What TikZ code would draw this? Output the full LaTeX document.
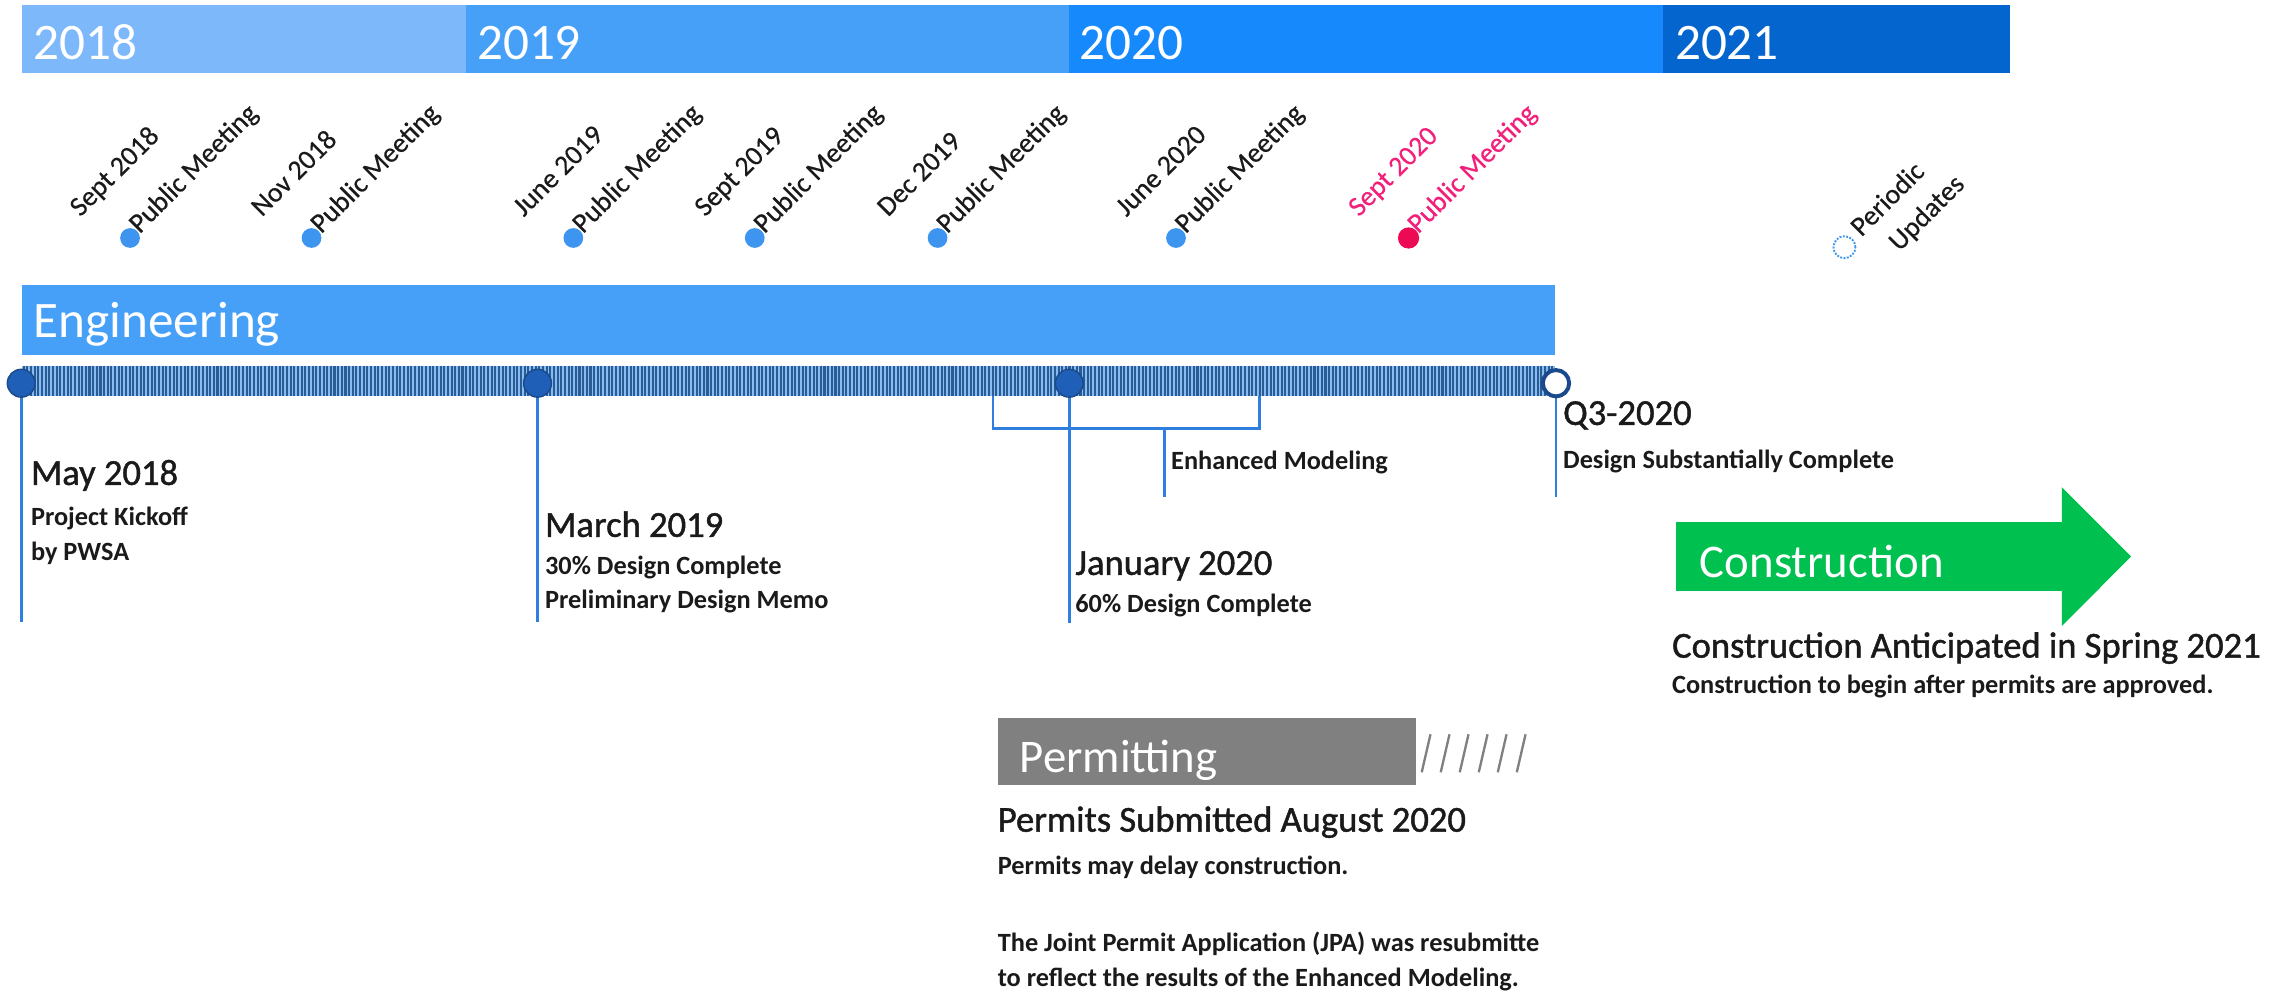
\documentclass[tikz,border=0pt]{standalone}
\usepackage{fontspec}
\setmainfont{Carlito}
\newfontface\headfont[FakeBold=1.2]{Carlito}
\newfontface\meetfont[FakeBold=0.5]{Carlito}
\definecolor{y18}{HTML}{7DB8FB}
\definecolor{y19}{HTML}{47A0F8}
\definecolor{y20}{HTML}{1689FC}
\definecolor{y21}{HTML}{0565CE}
\definecolor{engblue}{HTML}{47A0F8}
\definecolor{stripebg}{HTML}{86BDF0}
\definecolor{stripefg}{HTML}{2C5A94}
\definecolor{msfill}{HTML}{1F5FB8}
\definecolor{msline}{HTML}{1B4A8C}
\definecolor{lineblue}{HTML}{2F7FE0}
\definecolor{meetblue}{HTML}{3D95F0}
\definecolor{meetpink}{HTML}{EC0A55}
\definecolor{txtpink}{HTML}{F2207A}
\definecolor{txt}{HTML}{1A1A1A}
\definecolor{cgreen}{HTML}{00C050}
\definecolor{pgray}{HTML}{808080}
\tikzset{
  yearlbl/.style={font=\fontsize{35}{40}\selectfont, text=white, anchor=base west, inner sep=0pt},
  biglbl/.style={font=\fontsize{32}{36}\selectfont, text=white, anchor=base west, inner sep=0pt},
  head/.style={font=\headfont\fontsize{25}{30}\selectfont, text=txt, anchor=base west, inner sep=0pt},
  subtxt/.style={font=\bfseries\fontsize{18}{22}\selectfont, text=txt, anchor=base west, inner sep=0pt},
  meet/.style={font=\meetfont\fontsize{19}{22}\selectfont, text=txt, anchor=base west, inner sep=0pt, rotate=45},
  mdot/.style={circle, fill=meetblue, minimum size=13.5pt, inner sep=0pt},
  msdot/.style={circle, fill=msfill, draw=msline, line width=1pt, minimum size=19pt, inner sep=0pt},
  vline/.style={draw=lineblue, line width=1.8pt},
}
\begin{document}
\begin{tikzpicture}[x=1pt,y=-1pt]
\useasboundingbox (0,0) rectangle (1567,681);
% year bar
\fill[y18] (15,3.5) rectangle (318.5,50);
\fill[y19] (318.5,3.5) rectangle (731,50);
\fill[y20] (731,3.5) rectangle (1137,50);
\fill[y21] (1137,3.5) rectangle (1374,50);
\node[yearlbl] (y2018) at (22.5,41) {2018};
\node[yearlbl] (y2019) at (326,41) {2019};
\node[yearlbl] (y2020) at (738,41) {2020};
\node[yearlbl] (y2021) at (1145,41) {2021};
% public meetings
\foreach \x/\d/\n in {88.9/Sept 2018/a,213/Nov 2018/b,392/June 2019/c,516/Sept 2019/d,641/Dec 2019/e,804/June 2020/f}{
  \node[mdot] (md\n) at (\x,162.7) {};
  \node[meet] (pm\n) at ({\x+6.5},160.3) {Public Meeting};
  \node[meet] (dt\n) at ({\x-34},148.8) {\d};
}
\node[mdot, fill=meetpink, minimum size=14.5pt] (mdg) at (963,162.7) {};
\node[meet, text=txtpink] (pmg) at ({963+6.5},160.3) {Public Meeting};
\node[meet, text=txtpink] (dtg) at ({963-34},148.8) {Sept 2020};
\node[circle, draw=meetblue, densely dotted, line width=1.3pt, minimum size=15pt, inner sep=0pt] (pu) at (1261,169) {};
\node[meet] (per) at (1272.5,162.5) {Periodic};
\node[meet] (upd) at (1298.5,172.5) {Updates};
% engineering bar
\fill[engblue] (15,195) rectangle (1063,242.6);
\node[yearlbl] (eng) at (23,231) {Engineering};
% striped timeline
\fill[stripebg] (15,250) rectangle (1063,271);
\foreach \i in {0,...,418}{
  \draw[stripefg, line width=1.4pt] ({16.2+\i*2.5},250) -- ({16.2+\i*2.5},271);
}
% milestone coordinates
\coordinate (p1) at (14.5,262);
\coordinate (p1e) at (14.5,425);
\coordinate (p2) at (367.5,262);
\coordinate (p2e) at (367.5,425);
\coordinate (p3) at (731,262);
\coordinate (p3e) at (731,426);
\coordinate (p4) at (1063.8,262);
\coordinate (p4e) at (1063.8,340);
\coordinate (bl) at (679,271);
\coordinate (blb) at (679,293);
\coordinate (br) at (861,271);
\coordinate (brb) at (861,293);
\coordinate (bs) at (796,293);
\coordinate (bse) at (796,340);
\draw[vline] (p1) -- (p1e);
\draw[vline] (p2) -- (p2e);
\draw[vline] (p3) -- (p3e);
\draw[vline] (p4) -- (p4e);
\draw[vline] (bl) -- (blb) -- (brb) -- (br);
\draw[vline] (bs) -- (bse);
\node[msdot] (m1) at (p1) {};
\node[msdot] (m2) at (p2) {};
\node[msdot] (m3) at (p3) {};
\node[circle, fill=white, draw=msline, line width=2.7pt, minimum size=18pt, inner sep=0pt] (m4) at (p4) {};
% milestone texts
\node[head] (t1) at (21,331.5) {May 2018};
\node[subtxt] (t1a) at (21,359) {Project Kickoff};
\node[subtxt] (t1b) at (21,383) {by PWSA};
\node[head] (t2) at (372.5,367) {March 2019};
\node[subtxt] (t2a) at (372.5,393) {30\% Design Complete};
\node[subtxt] (t2b) at (372.5,416) {Preliminary Design Memo};
\node[head] (t3) at (735,393) {January 2020};
\node[subtxt] (t3a) at (735,419) {60\% Design Complete};
\node[subtxt] (tem) at (800.5,321) {Enhanced Modeling};
\node[head] (t4) at (1068.5,290.5) {Q3-2020};
\node[subtxt] (t4a) at (1068.5,320.6) {Design Substantially Complete};
% construction
\fill[cgreen] (1146,357) -- (1409.6,357) -- (1409.6,333) -- (1457,380.5) -- (1409.6,428) -- (1409.6,404) -- (1146,404) -- cycle;
\node[biglbl] (con) at (1162,394.6) {Construction};
\node[head] (t5) at (1143,449.6) {Construction Anticipated in Spring 2021};
\node[subtxt] (t5a) at (1143,474) {Construction to begin after permits are approved.};
% permitting
\fill[pgray] (682,491) rectangle (968,537);
\node[biglbl] (perm) at (697,528) {Permitting};
\foreach \i in {0,...,5}{
  \draw[pgray, line width=1.6pt] ({972+\i*13},528) -- ({978+\i*13},502);
}
\node[head] (t6) at (682,568.6) {Permits Submitted August 2020};
\node[subtxt] (t6a) at (682,598) {Permits may delay construction.};
\node[subtxt] (t6b) at (682,650.5) {The Joint Permit Application (JPA) was resubmitte};
\node[subtxt] (t6c) at (682,674.5) {to reflect the results of the Enhanced Modeling.};
\end{tikzpicture}
\end{document}
